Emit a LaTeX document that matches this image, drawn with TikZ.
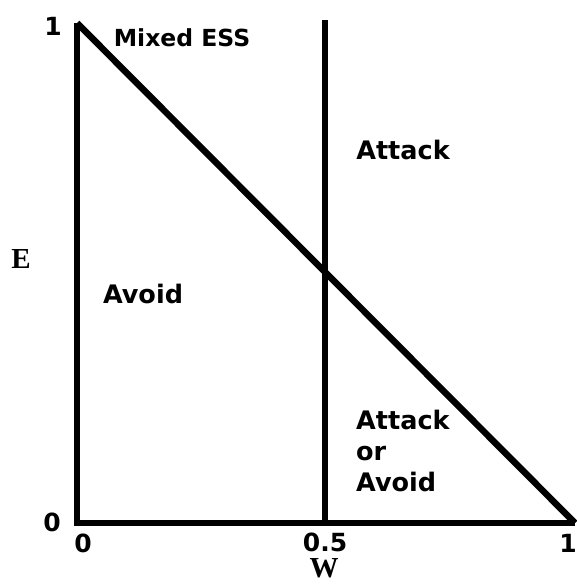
\documentclass[tikz,border=0pt]{standalone}
\usepackage{fontspec}
\setmainfont{Liberation Serif}
\newfontfamily\labelfont{DejaVu Sans}
\begin{document}
\begin{tikzpicture}[x=1pt,y=-1pt,
  axisline/.style={line width=6.5pt},
  region/.style={font=\labelfont\bfseries\fontsize{25.5}{31}\selectfont, inner sep=0pt},
  ticklabel/.style={font=\labelfont\bfseries\fontsize{25}{30}\selectfont, inner sep=0pt},
  axislabel/.style={font=\bfseries\fontsize{29}{32}\selectfont, inner sep=0pt}]
\useasboundingbox (0,0) rectangle (577,584);
\coordinate (top) at (77,23);
\coordinate (origin) at (77,523);
\coordinate (right) at (575,523);
\coordinate (midtop) at (325,20);
\coordinate (midbot) at (325,523);
\draw[axisline] (top) -- (origin) -- (right);
\draw[axisline] (top) -- (right);
\draw[axisline] (midtop) -- (midbot);
\node[region, font=\labelfont\bfseries\fontsize{23.5}{28}\selectfont] (mixed) at (182,38) {Mixed ESS};
\node[region] (attack) at (403,150) {Attack};
\node[region] (avoid) at (143,294) {Avoid};
\node[region, align=left, anchor=north west] (either) at (356,410) {Attack\\or\\Avoid};
\node[ticklabel] (y1) at (53,26) {1};
\node[ticklabel] (y0) at (52,522) {0};
\node[ticklabel] (x0) at (83,543) {0};
\node[ticklabel] (x05) at (325,542) {0.5};
\node[ticklabel] (x1) at (568,543) {1};
\node[axislabel] (E) at (21,259) {E};
\node[axislabel] (W) at (324,568) {W};
\end{tikzpicture}
\end{document}
